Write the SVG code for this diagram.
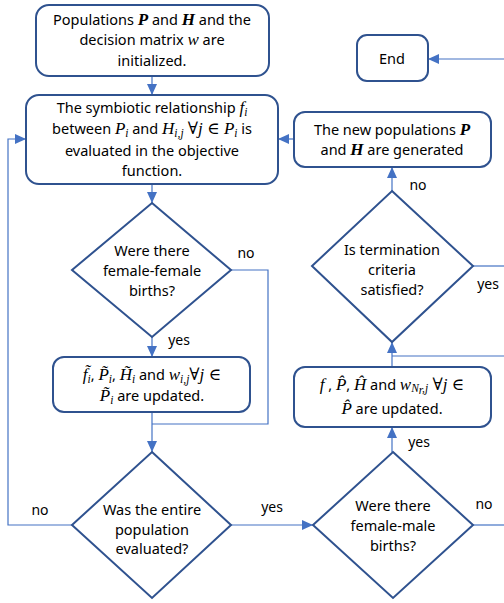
<svg xmlns="http://www.w3.org/2000/svg" width="504" height="603" viewBox="0 0 504 603">
<defs>
<marker id="ah" markerUnits="userSpaceOnUse" markerWidth="12" markerHeight="12" viewBox="0 0 12 12" refX="11" refY="6" orient="auto">
<path d="M0,1 L11,6 L0,11 Z" fill="#4472C4"/>
</marker>
<style>
.box{fill:#fff;stroke:#2F528F;stroke-width:2}
.con{fill:none;stroke:#4472C4;stroke-width:1.2}
.arr{marker-end:url(#ah)}
text{font-family:"Noto Sans","Open Sans",sans-serif;font-size:14.5px;fill:#000;text-anchor:middle}
.m{font-family:"Liberation Serif","DejaVu Serif",serif;font-style:italic;font-size:17px}
.mb{font-family:"Liberation Serif","DejaVu Serif",serif;font-style:italic;font-weight:bold;font-size:17px}
.s{font-family:"Liberation Serif","DejaVu Serif",serif;font-style:italic;font-size:11.5px}
.lbl{font-size:14px}
</style>
</defs>
<rect width="504" height="603" fill="#fff"/>
<g id="connectors">
<path class="con arr" d="M152,76 V95"/>
<path class="con arr" d="M152,184 V203"/>
<path class="con arr" d="M152,337 V357"/>
<path class="con arr" d="M152,412 V452"/>
<path class="con" d="M231,270 H268 V424 H152"/>
<path class="con arr" d="M72,525 H8 V139 H26"/>
<path class="con arr" d="M231,525 H313"/>
<path class="con arr" d="M392,452 V427"/>
<path class="con" d="M473,525 H504"/>
<path class="con arr" d="M392,367 V342"/>
<path class="con" d="M504,356 H392"/>
<path class="con arr" d="M392,191 V167"/>
<path class="con" d="M473,266 H504"/>
<path class="con arr" d="M294,139 H278"/>
<path class="con arr" d="M504,59 H428"/>
</g>
<g id="labels">
<text class="lbl" x="246" y="258">no</text>
<text class="lbl" x="179" y="345">yes</text>
<text class="lbl" x="40" y="515">no</text>
<text class="lbl" x="272" y="512">yes</text>
<text class="lbl" x="419" y="447">yes</text>
<text class="lbl" x="484" y="509">no</text>
<text class="lbl" x="418" y="190">no</text>
<text class="lbl" x="488" y="289">yes</text>
</g>
<g id="init">
<rect class="box" x="36" y="5" width="233" height="71" rx="13"/>
<text x="152" y="25">Populations <tspan class="mb">P</tspan> and <tspan class="mb">H</tspan> and the</text>
<text x="152" y="45">decision matrix <tspan class="m">w</tspan> are</text>
<text x="152" y="66">initialized.</text>
</g>
<g id="evaluate">
<rect class="box" x="26" y="95" width="252" height="89" rx="13"/>
<text x="152" y="113">The symbiotic relationship <tspan class="m">f</tspan><tspan class="s" dy="3">i</tspan></text>
<text x="152" y="134">between <tspan class="m">P</tspan><tspan class="s" dy="3">i</tspan><tspan dy="-3"> and </tspan><tspan class="m">H</tspan><tspan class="s" dy="3">i,j</tspan><tspan class="m" dy="-3"> ∀j ∈ P</tspan><tspan class="s" dy="3">i</tspan><tspan dy="-3"> is</tspan></text>
<text x="152" y="156">evaluated in the objective</text>
<text x="152" y="176">function.</text>
</g>
<g id="ffbirths">
<polygon class="box" points="152,203 231,270 152,337 72,270"/>
<text x="152" y="256">Were there</text>
<text x="152" y="276">female-female</text>
<text x="152" y="296">births?</text>
</g>
<g id="ffupdate">
<rect class="box" x="53" y="357" width="197" height="55" rx="11"/>
<text x="152" y="380"><tspan class="m">f̃</tspan><tspan class="s" dy="3">i</tspan><tspan dy="-3">, </tspan><tspan class="m">P̃</tspan><tspan class="s" dy="3">i</tspan><tspan dy="-3">, </tspan><tspan class="m">H̃</tspan><tspan class="s" dy="3">i</tspan><tspan dy="-3"> and </tspan><tspan class="m">w</tspan><tspan class="s" dy="3">i,j</tspan><tspan class="m" dy="-3">∀j ∈</tspan></text>
<text x="152" y="401"><tspan class="m">P̃</tspan><tspan class="s" dy="3">i</tspan><tspan dy="-3"> are updated.</tspan></text>
</g>
<g id="entire">
<polygon class="box" points="152,452 231,525 152,598 72,525"/>
<text x="152" y="515">Was the entire</text>
<text x="152" y="535">population</text>
<text x="152" y="554">evaluated?</text>
</g>
<g id="fmbirths">
<polygon class="box" points="393,452 473,525 393,598 313,525"/>
<text x="393" y="511">Were there</text>
<text x="393" y="531">female-male</text>
<text x="393" y="551">births?</text>
</g>
<g id="fmupdate">
<rect class="box" x="294" y="367" width="197" height="60" rx="11"/>
<text x="392" y="390"><tspan class="m">f</tspan> , <tspan class="m">P̂</tspan>, <tspan class="m">Ĥ</tspan> and <tspan class="m">w</tspan><tspan class="s" dy="2">N</tspan><tspan class="s" font-size="8.5" dy="2">r</tspan><tspan class="s" dy="-2">,j</tspan><tspan class="m" dy="-2"> ∀j ∈</tspan></text>
<text x="392" y="414"><tspan class="m">P̂</tspan> are updated.</text>
</g>
<g id="termination">
<polygon class="box" points="392,191 473,266 392,342 312,266"/>
<text x="392" y="255">Is termination</text>
<text x="392" y="275">criteria</text>
<text x="392" y="295">satisfied?</text>
</g>
<g id="newpop">
<rect class="box" x="294" y="112" width="197" height="55" rx="11"/>
<text x="392" y="135">The new populations <tspan class="mb">P</tspan></text>
<text x="392" y="155">and <tspan class="mb">H</tspan> are generated</text>
</g>
<g id="end">
<rect class="box" x="357" y="35" width="71" height="46" rx="10"/>
<text x="392" y="64">End</text>
</g>
</svg>
